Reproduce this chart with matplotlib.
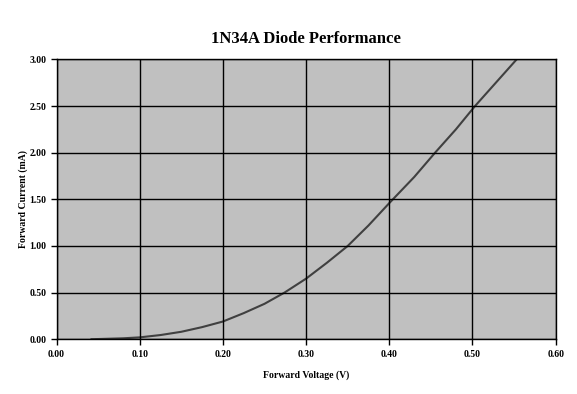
import matplotlib
matplotlib.use('Agg')
import matplotlib.pyplot as plt

# forward voltage (V) vs forward current (mA)
voltage = [0.042, 0.08, 0.10, 0.125, 0.15, 0.175, 0.20, 0.225, 0.25, 0.274,
           0.30, 0.325, 0.35, 0.375, 0.40, 0.43, 0.455, 0.48, 0.503, 0.53, 0.553]
current = [0.00, 0.01, 0.02, 0.045, 0.08, 0.13, 0.19, 0.28, 0.38, 0.50,
           0.65, 0.82, 1.00, 1.22, 1.46, 1.74, 2.00, 2.25, 2.50, 2.77, 3.00]

x_ticks = [0.0, 0.1, 0.2, 0.3, 0.4, 0.5, 0.6]
y_ticks = [0.0, 0.5, 1.0, 1.5, 2.0, 2.5, 3.0]

plt.rcParams['font.family'] = ['Liberation Serif', 'DejaVu Serif']
plt.rcParams['font.weight'] = 'bold'

fig = plt.figure(figsize=(5.77, 3.94), dpi=100)
ax = fig.add_axes([0.098, 0.139, 0.865, 0.710])
ax.set_facecolor('#C0C0C0')

ax.plot(voltage, current, color='#404040', linewidth=1.5)

ax.set_xlim(0, 0.6)
ax.set_ylim(0, 3.0)
ax.set_xticks(x_ticks)
ax.set_yticks(y_ticks)
ax.set_xticklabels([f'{v:.2f}' for v in x_ticks])
ax.set_yticklabels([f'{v:.2f}' for v in y_ticks])
ax.tick_params(axis='both', direction='out', length=4, width=1, labelsize=7, color='black')
ax.tick_params(axis='x', pad=4)

ax.grid(True, color='black', linewidth=1)
ax.set_axisbelow(False)
for s in ax.spines.values():
    s.set_color('black')
    s.set_linewidth(1)

ax.set_title('1N34A Diode Performance', fontsize=12, fontweight='bold', pad=12)
ax.set_xlabel('Forward Voltage (V)', fontsize=7, fontweight='bold', labelpad=8)
ax.set_ylabel('Forward Current (mA)', fontsize=7, fontweight='bold', labelpad=1)

plt.savefig('out.png', dpi=100)
